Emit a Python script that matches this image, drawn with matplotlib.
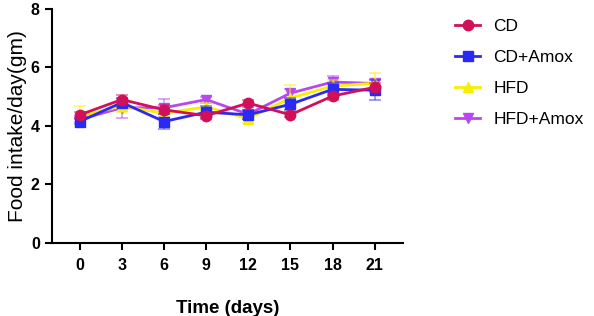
import matplotlib

matplotlib.use("Agg")
import matplotlib.pyplot as plt

plt.rcParams["font.family"] = ["Liberation Sans", "DejaVu Sans"]

# food intake per day (g) over time, mean +/- error
days = [0, 3, 6, 9, 12, 15, 18, 21]
groups = ["CD", "CD+Amox", "HFD", "HFD+Amox"]
cd = [4.38, 4.90, 4.55, 4.35, 4.78, 4.38, 5.02, 5.32]
cd_err = [0.10, 0.15, 0.15, 0.10, 0.12, 0.08, 0.12, 0.15]
cd_amox = [4.15, 4.80, 4.15, 4.47, 4.38, 4.74, 5.25, 5.22]
cd_amox_err = [0.10, 0.15, 0.25, 0.20, 0.15, 0.20, 0.20, 0.35]
hfd = [4.33, 4.68, 4.43, 4.65, 4.25, 4.95, 5.36, 5.46]
hfd_err = [0.35, 0.20, 0.15, 0.15, 0.15, 0.45, 0.20, 0.35]
hfd_amox = [4.22, 4.62, 4.62, 4.90, 4.40, 5.12, 5.50, 5.45]
hfd_amox_err = [0.10, 0.35, 0.30, 0.10, 0.15, 0.15, 0.20, 0.15]

series = [cd, cd_amox, hfd, hfd_amox]
errors = [cd_err, cd_amox_err, hfd_err, hfd_amox_err]
colors = ["#D1105A", "#2A2AF5", "#F5F000", "#B847F0"]
markers = ["o", "s", "^", "v"]
zorders = [6, 5, 4, 3]

fig = plt.figure(figsize=(5.94, 3.16), dpi=100)
ax = fig.add_axes([0.087, 0.231, 0.591, 0.741])

handles = []
for name, vals, err, c, m, z in zip(groups, series, errors, colors, markers, zorders):
    eb = ax.errorbar(days, vals, yerr=err, color=c, marker=m, markersize=7.5,
                     linewidth=2, elinewidth=1.2, capsize=4, capthick=1.2,
                     label=name, zorder=z)
    for part in eb[1] + eb[2]:
        part.set_alpha(0.55)
    handles.append(eb[0])

ax.set_xlim(-2, 23)
ax.set_ylim(0, 8)
ax.set_xticks(days)
ax.set_yticks([0, 2, 4, 6, 8])
ax.spines["top"].set_visible(False)
ax.spines["right"].set_visible(False)
for s in ["left", "bottom"]:
    ax.spines[s].set_linewidth(1.5)
ax.tick_params(width=1.5, length=5, labelsize=11.5)
ax.tick_params(axis="x", pad=6)
for lab in ax.get_xticklabels() + ax.get_yticklabels():
    lab.set_fontweight("bold")

ax.set_xlabel("Time (days)", fontsize=13.5, fontweight="bold", labelpad=19)
ax.set_ylabel("Food intake/day(gm)", fontsize=15, labelpad=3)

ax.legend(handles=handles, labels=groups, loc="upper left",
          bbox_to_anchor=(1.129, 0.987), frameon=False, fontsize=12.5,
          handlelength=1.45, handletextpad=0.75, labelspacing=0.92,
          borderaxespad=0)

fig.savefig("out.png", dpi=100)
